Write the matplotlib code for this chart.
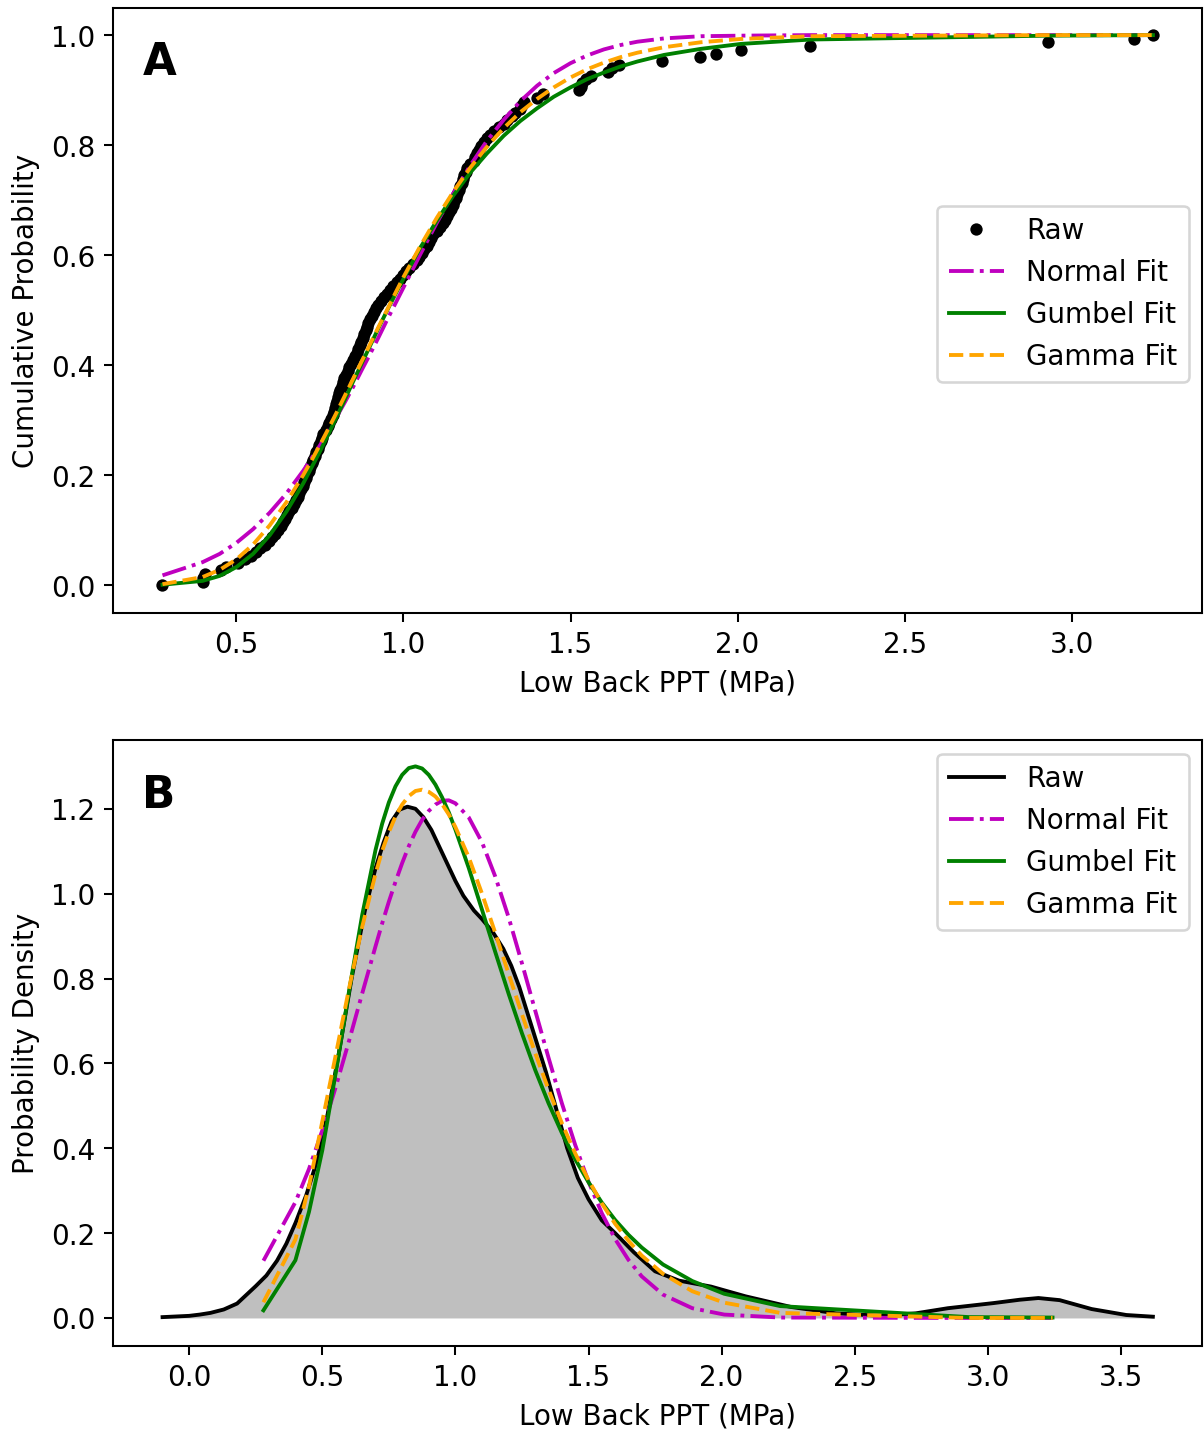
import numpy as np
import matplotlib
matplotlib.use('Agg')
import matplotlib.pyplot as plt

plt.rcParams['font.size'] = 10.8

# raw low back PPT values (MPa), sorted
raw_ppt = [0.279, 0.399, 0.401, 0.405, 0.455, 0.47, 0.505, 0.525, 0.545, 0.560,
           0.572, 0.586, 0.597, 0.607, 0.617, 0.625, 0.633, 0.64, 0.646, 0.652,
           0.658, 0.666, 0.672, 0.678, 0.684, 0.689, 0.694, 0.699, 0.703, 0.708,
           0.712, 0.717, 0.721, 0.726, 0.73, 0.735, 0.739, 0.744, 0.748, 0.752,
           0.756, 0.76, 0.768, 0.774, 0.778, 0.783, 0.788, 0.792, 0.796, 0.799,
           0.802, 0.805, 0.808, 0.811, 0.815, 0.819, 0.823, 0.828, 0.833, 0.838,
           0.843, 0.848, 0.854, 0.86, 0.865, 0.87, 0.874, 0.878, 0.882, 0.887,
           0.891, 0.895, 0.90, 0.905, 0.912, 0.918, 0.924, 0.932, 0.942, 0.952,
           0.96, 0.97, 0.98, 0.99, 0.998, 1.008, 1.018, 1.03, 1.04, 1.048,
           1.055, 1.062, 1.07, 1.076, 1.082, 1.09, 1.10, 1.11, 1.118, 1.124,
           1.13, 1.136, 1.143, 1.148, 1.152, 1.156, 1.16, 1.165, 1.17, 1.174,
           1.178, 1.182, 1.186, 1.19, 1.198, 1.21, 1.215, 1.22, 1.226, 1.232,
           1.24, 1.25, 1.258, 1.27, 1.285, 1.30, 1.31, 1.325, 1.335, 1.35,
           1.355, 1.36, 1.40, 1.417, 1.525, 1.53, 1.535, 1.545, 1.56, 1.612,
           1.625, 1.645, 1.774, 1.889, 1.934, 2.009, 2.216, 2.928, 3.187, 3.243]

# x positions where the fits are drawn
fit_x = [0.279, 0.399, 0.45, 0.50, 0.55, 0.60, 0.65, 0.70, 0.725, 0.75,
         0.775, 0.80, 0.825, 0.85, 0.875, 0.90, 0.925, 0.95, 0.975, 1.00,
         1.05, 1.10, 1.15, 1.20, 1.25, 1.30, 1.35, 1.40, 1.45, 1.50,
         1.55, 1.60, 1.65, 1.70, 1.78, 1.89, 2.01, 2.22, 2.93, 3.243]

normal_cdf = [0.018, 0.042, 0.057, 0.077, 0.102, 0.132, 0.167, 0.208, 0.231, 0.254,
              0.280, 0.306, 0.333, 0.361, 0.391, 0.420, 0.450, 0.481, 0.511, 0.541,
              0.601, 0.659, 0.713, 0.763, 0.808, 0.846, 0.880, 0.908, 0.931, 0.949,
              0.963, 0.974, 0.982, 0.988, 0.994, 0.998, 0.999, 1.0, 1.0, 1.0]
gumbel_cdf = [0.001, 0.008, 0.017, 0.033, 0.057, 0.091, 0.134, 0.185, 0.214, 0.243,
              0.274, 0.306, 0.338, 0.371, 0.403, 0.435, 0.467, 0.498, 0.528, 0.557,
              0.613, 0.663, 0.709, 0.750, 0.785, 0.817, 0.844, 0.867, 0.888, 0.905,
              0.920, 0.932, 0.943, 0.952, 0.964, 0.975, 0.984, 0.992, 0.999, 1.0]
gamma_cdf = [0.002, 0.015, 0.028, 0.047, 0.074, 0.109, 0.151, 0.200, 0.227, 0.255,
             0.284, 0.314, 0.345, 0.376, 0.407, 0.438, 0.469, 0.499, 0.530, 0.560,
             0.616, 0.668, 0.716, 0.759, 0.797, 0.831, 0.860, 0.884, 0.905, 0.923,
             0.938, 0.950, 0.960, 0.968, 0.978, 0.987, 0.993, 0.998, 1.0, 1.0]

normal_pdf = [0.135, 0.273, 0.351, 0.442, 0.543, 0.652, 0.765, 0.876, 0.930, 0.981,
              1.028, 1.072, 1.112, 1.146, 1.174, 1.195, 1.210, 1.219, 1.220, 1.213,
              1.180, 1.121, 1.040, 0.944, 0.836, 0.724, 0.613, 0.506, 0.408, 0.321,
              0.247, 0.186, 0.137, 0.098, 0.055, 0.023, 0.008, 0.001, 0.0, 0.0]
gumbel_pdf = [0.018, 0.136, 0.25, 0.395, 0.576, 0.768, 0.950, 1.103, 1.165, 1.215,
              1.253, 1.280, 1.296, 1.300, 1.295, 1.280, 1.257, 1.227, 1.192, 1.151,
              1.061, 0.962, 0.862, 0.764, 0.671, 0.584, 0.506, 0.436, 0.374, 0.320,
              0.272, 0.231, 0.196, 0.166, 0.126, 0.087, 0.057, 0.028, 0.002, 0.001]
gamma_pdf = [0.037, 0.185, 0.31, 0.463, 0.618, 0.775, 0.922, 1.047, 1.101, 1.145,
             1.182, 1.210, 1.230, 1.242, 1.245, 1.240, 1.229, 1.211, 1.187, 1.157,
             1.086, 1.0, 0.907, 0.811, 0.716, 0.624, 0.538, 0.459, 0.388, 0.325,
             0.270, 0.222, 0.182, 0.147, 0.104, 0.063, 0.036, 0.012, 0.0, 0.0]

# kernel density of the raw data
kde_x = [-0.10, 0.00, 0.04, 0.08, 0.13, 0.18, 0.25, 0.29, 0.33, 0.365,
         0.40, 0.44, 0.48, 0.52, 0.56, 0.61, 0.66, 0.70, 0.73, 0.76,
         0.79, 0.82, 0.85, 0.88, 0.91, 0.94, 0.97, 1.00, 1.03, 1.07,
         1.10, 1.14, 1.18, 1.21, 1.24, 1.27, 1.30, 1.34, 1.38, 1.42,
         1.46, 1.50, 1.55, 1.60, 1.67, 1.75, 1.84, 1.96, 2.09, 2.26,
         2.43, 2.60, 2.73, 2.85, 3.02, 3.12, 3.19, 3.27, 3.39, 3.52,
         3.62]
kde_y = [0.002, 0.005, 0.008, 0.012, 0.02, 0.034, 0.075, 0.10, 0.135, 0.175,
         0.225, 0.29, 0.37, 0.48, 0.616, 0.80, 0.96, 1.06, 1.12, 1.17,
         1.198, 1.205, 1.20, 1.18, 1.15, 1.11, 1.07, 1.03, 0.995, 0.96,
         0.94, 0.91, 0.87, 0.83, 0.78, 0.72, 0.66, 0.58, 0.49, 0.40,
         0.33, 0.28, 0.23, 0.20, 0.155, 0.11, 0.088, 0.074, 0.051, 0.026,
         0.011, 0.005, 0.011, 0.023, 0.035, 0.043, 0.047, 0.042, 0.021, 0.007,
         0.003]

n = len(raw_ppt)
ecdf = np.arange(n) / (n - 1)

fig = plt.figure(figsize=(1204.4 / 185, 1431.4 / 185), dpi=185)

# A: cumulative
ax1 = fig.add_axes([113 / 1204, 818 / 1431, 1089 / 1204, 605 / 1431])
ax1.plot(raw_ppt, ecdf, 'ko', markersize=4.8, markeredgewidth=0, label='Raw')
ax1.plot(fit_x, normal_cdf, 'm-.', label='Normal Fit')
ax1.plot(fit_x, gumbel_cdf, 'g-', label='Gumbel Fit')
ax1.plot(fit_x, gamma_cdf, '--', color='orange', label='Gamma Fit')
ax1.set_xlim(0.131, 3.391)
ax1.set_ylim(-0.05, 1.05)
ax1.set_xlabel('Low Back PPT (MPa)')
ax1.set_ylabel('Cumulative Probability')
ax1.legend(loc='center right', bbox_to_anchor=(1, 0.527))
ax1.text(0.027, 0.889, 'A', transform=ax1.transAxes, fontsize=17,
         fontweight='bold')

# B: density
ax2 = fig.add_axes([113 / 1204, 85 / 1431, 1089 / 1204, 606 / 1431])
ax2.fill_between(kde_x, kde_y, color='k', alpha=0.25, linewidth=0)
ax2.plot(kde_x, kde_y, 'k-', label='Raw')
ax2.plot(fit_x, normal_pdf, 'm-.', label='Normal Fit')
ax2.plot(fit_x, gumbel_pdf, 'g-', label='Gumbel Fit')
ax2.plot(fit_x, gamma_pdf, '--', color='orange', label='Gamma Fit')
ax2.set_xlim(-0.286, 3.806)
ax2.set_ylim(-0.066, 1.3626)
ax2.set_xlabel('Low Back PPT (MPa)')
ax2.set_ylabel('Probability Density')
ax2.legend(loc='upper right')
ax2.text(0.027, 0.888, 'B', transform=ax2.transAxes, fontsize=17,
         fontweight='bold')

fig.savefig('out.png', dpi=185)
